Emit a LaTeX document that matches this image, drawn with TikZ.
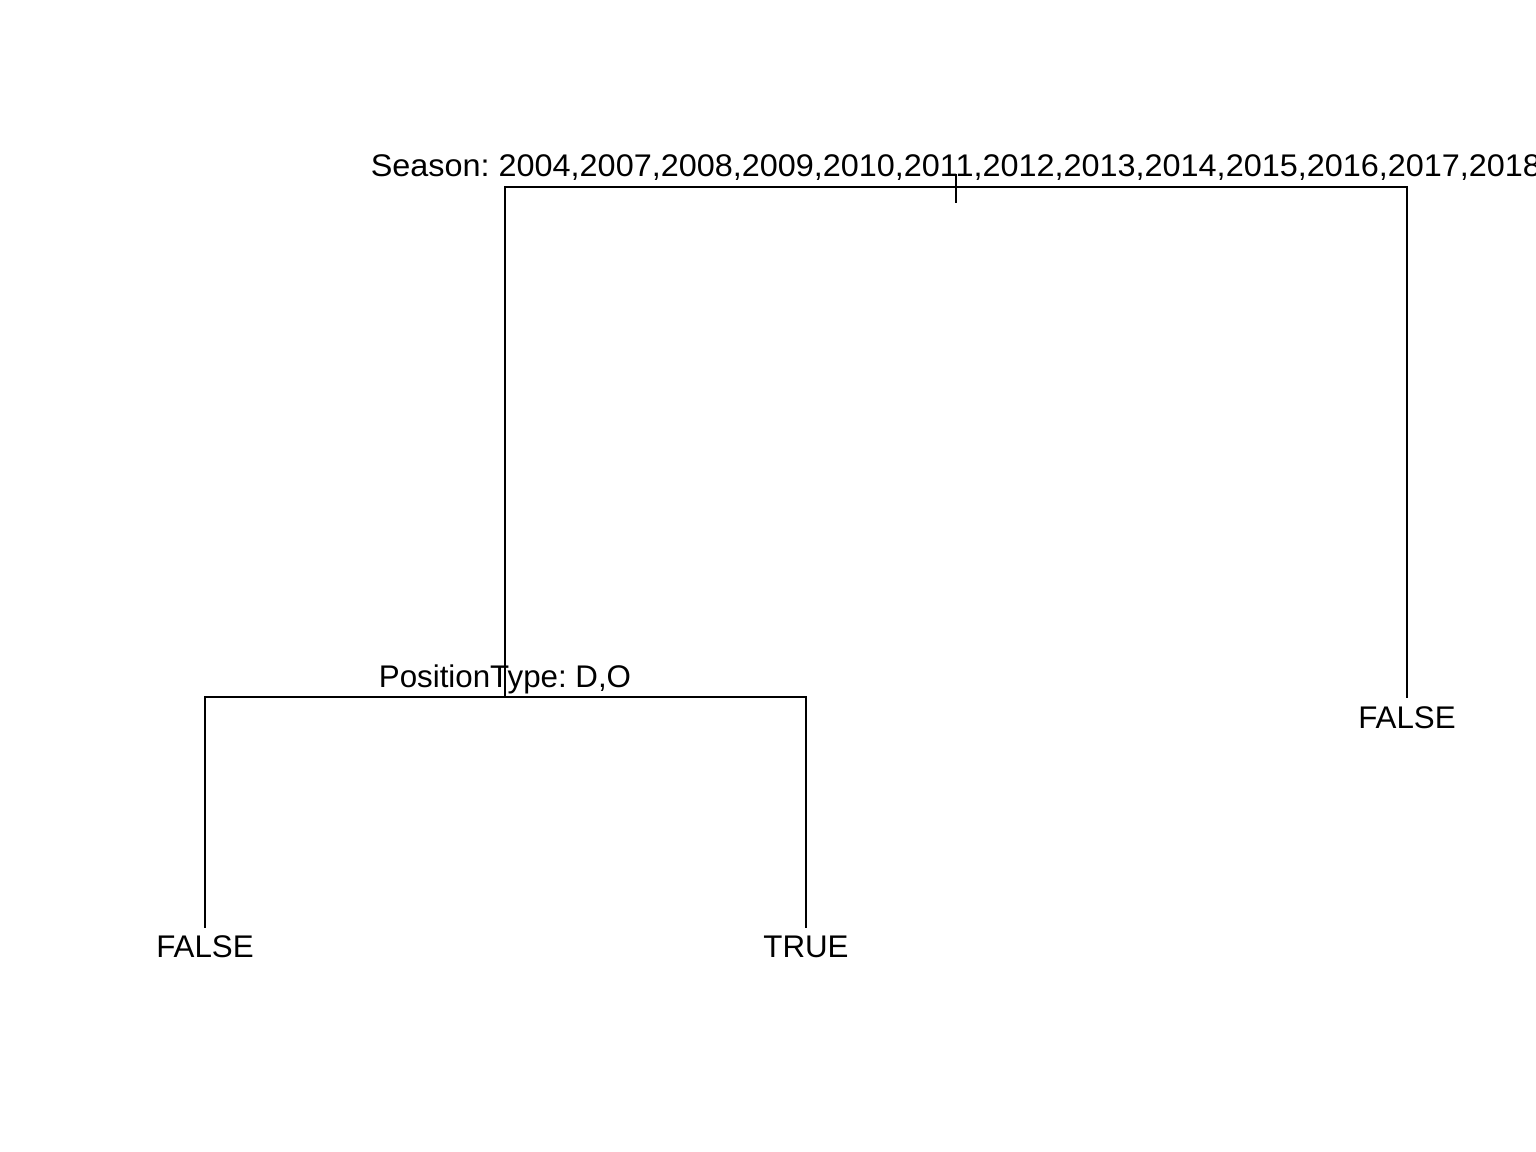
\documentclass[tikz,border=0pt]{standalone}
\usepackage{fontspec}
\setmainfont{Liberation Sans}
\frenchspacing
\begin{document}
\begin{tikzpicture}[x=0.01cm,y=-0.01cm,
  lbl/.style={anchor=base,inner sep=0pt,font=\fontsize{8.9}{10}\selectfont},
  branch/.style={line width=0.6pt,line cap=rect}]
\useasboundingbox (0,0) rectangle (1536,1152);
\clip (0,0) rectangle (1536,1152);
% split points
\coordinate (rootL) at (505,187);
\coordinate (rootR) at (1407,187);
\coordinate (tickT) at (956,175);
\coordinate (tickB) at (956,202);
\coordinate (n2) at (505,697);
\coordinate (n2L) at (205,697);
\coordinate (n2R) at (806,697);
\coordinate (leafR) at (1407,697);
\coordinate (leafLL) at (205,927);
\coordinate (leafLR) at (806,927);
% labels
\node[lbl] (season) at (956,177) {\scalebox{1.035}[1]{Season: 2004,2007,2008,2009,2010,2011,2012,2013,2014,2015,2016,2017,2018}};
\node[lbl] (pos) at (505,687) {PositionType: D,O};
\node[lbl] (fR) at (1407,728) {FALSE};
\node[lbl] (fL) at (205,957) {FALSE};
\node[lbl] (tL) at (806,957) {TRUE};
% branches
\draw[branch] (rootL) -- (rootR);
\draw[branch] (tickT) -- (tickB);
\draw[branch] (rootL) -- (n2);
\draw[branch] (rootR) -- (leafR);
\draw[branch] (n2L) -- (n2R);
\draw[branch] (n2L) -- (leafLL);
\draw[branch] (n2R) -- (leafLR);
\end{tikzpicture}
\end{document}
